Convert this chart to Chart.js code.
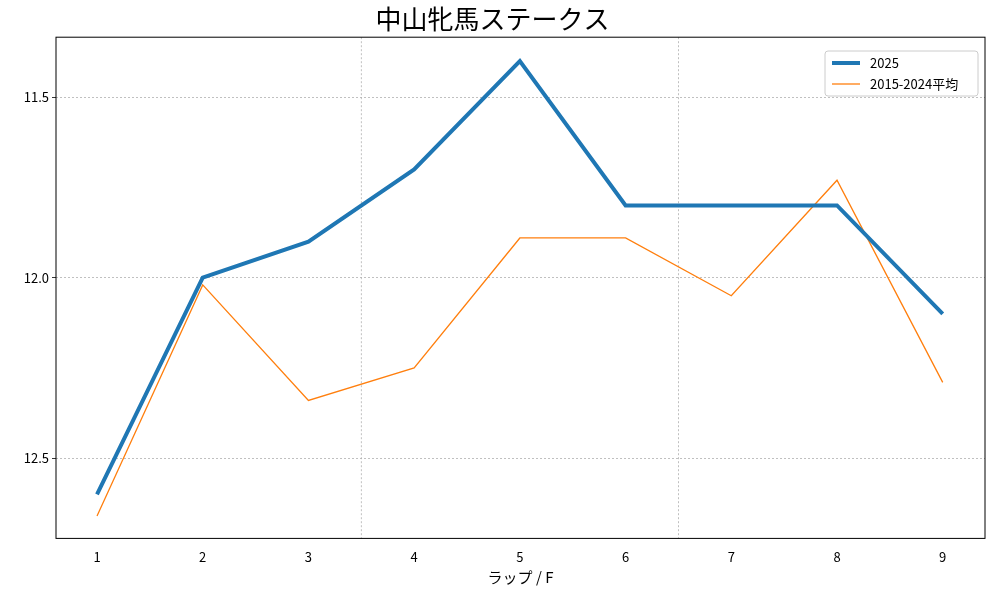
<!DOCTYPE html>
<html>
<head>
<meta charset="utf-8">
<script src="https://cdn.jsdelivr.net/npm/chart.js@4"></script>
<style>
body { margin: 0; background: #fff; }
</style>
</head>
<body>
<canvas id="myChart" width="1000" height="600"></canvas>
<script>
// データ
const laps = [1, 2, 3, 4, 5, 6, 7, 8, 9];
const lap2025 = [12.6, 12.0, 11.9, 11.7, 11.4, 11.8, 11.8, 11.8, 12.1];
const lapAvg = [12.66, 12.02, 12.34, 12.25, 11.89, 11.89, 12.05, 11.73, 12.29];
const yTicks = [11.5, 12.0, 12.5];
const xGridAt = [3.5, 6.5];
const FONT = "'Noto Sans CJK JP', 'DejaVu Sans', sans-serif";

// 枠線・補助線・凡例
const extras = {
    id: 'extras',
    beforeDatasetsDraw(chart) {
        const { ctx, chartArea: a, scales: { x } } = chart;
        ctx.save();
        ctx.strokeStyle = '#b0b0b0';
        ctx.lineWidth = 0.8;
        ctx.setLineDash([2, 2]);
        xGridAt.forEach(v => {
            const px = x.getPixelForValue(v);
            ctx.beginPath(); ctx.moveTo(px, a.top); ctx.lineTo(px, a.bottom); ctx.stroke();
        });
        ctx.restore();
    },
    afterDraw(chart) {
        const { ctx, chartArea: a } = chart;
        ctx.save();
        ctx.strokeStyle = '#000'; ctx.lineWidth = 1;
        ctx.strokeRect(a.left, a.top, a.right - a.left, a.bottom - a.top);
        // 凡例
        const bx = 825, by = 51, bw = 153, bh = 45;
        ctx.fillStyle = 'rgba(255,255,255,0.8)';
        ctx.strokeStyle = '#ccc';
        ctx.beginPath(); ctx.roundRect(bx, by, bw, bh, 3); ctx.fill(); ctx.stroke();
        ctx.font = '13px ' + FONT; ctx.fillStyle = '#000'; ctx.textBaseline = 'middle';
        chart.data.datasets.forEach((d, i) => {
            const yy = by + 12 + i * 21;
            ctx.strokeStyle = d.borderColor; ctx.lineWidth = d.borderWidth;
            ctx.beginPath(); ctx.moveTo(bx + 7, yy); ctx.lineTo(bx + 35, yy); ctx.stroke();
            ctx.fillText(d.label, bx + 45, yy);
        });
        ctx.restore();
    }
};

new Chart(document.getElementById('myChart'), {
    type: 'line',
    data: {
        datasets: [
            { label: '2025', data: laps.map((l, i) => ({ x: l, y: lap2025[i] })), borderColor: '#1f77b4', borderWidth: 4, pointRadius: 0, tension: 0 },
            { label: '2015-2024平均', data: laps.map((l, i) => ({ x: l, y: lapAvg[i] })), borderColor: '#ff7f0e', borderWidth: 1.3, pointRadius: 0, tension: 0 }
        ]
    },
    options: {
        responsive: false, animation: false,
        layout: { padding: { left: 0, right: 15, top: 0, bottom: 10 } },
        plugins: {
            legend: { display: false },
            tooltip: { enabled: false },
            title: { display: true, text: '中山牝馬ステークス', color: '#000', font: { family: FONT, size: 26, weight: 'normal' }, padding: { top: 4, bottom: 2 } }
        },
        scales: {
            x: {
                type: 'linear', min: 0.612, max: 9.4,
                afterBuildTicks: s => { s.ticks = laps.map(v => ({ value: v })); },
                grid: { display: false, drawTicks: true },
                border: { display: false },
                ticks: { color: '#000', font: { family: FONT, size: 13 } },
                title: { display: true, text: 'ラップ / F', color: '#000', font: { family: FONT, size: 15 }, padding: { top: 0 } }
            },
            y: {
                reverse: true, min: 11.334, max: 12.722,
                afterBuildTicks: s => { s.ticks = yTicks.map(v => ({ value: v })); },
                afterFit: s => { s.width = 56; },
                grid: { color: '#b0b0b0', lineWidth: 0.8, tickColor: '#000', tickLength: 4 },
                border: { display: false, dash: [2, 2] },
                ticks: { color: '#000', font: { family: FONT, size: 13 }, callback: v => v.toFixed(1) }
            }
        }
    },
    plugins: [extras]
});
</script>
</body>
</html>
